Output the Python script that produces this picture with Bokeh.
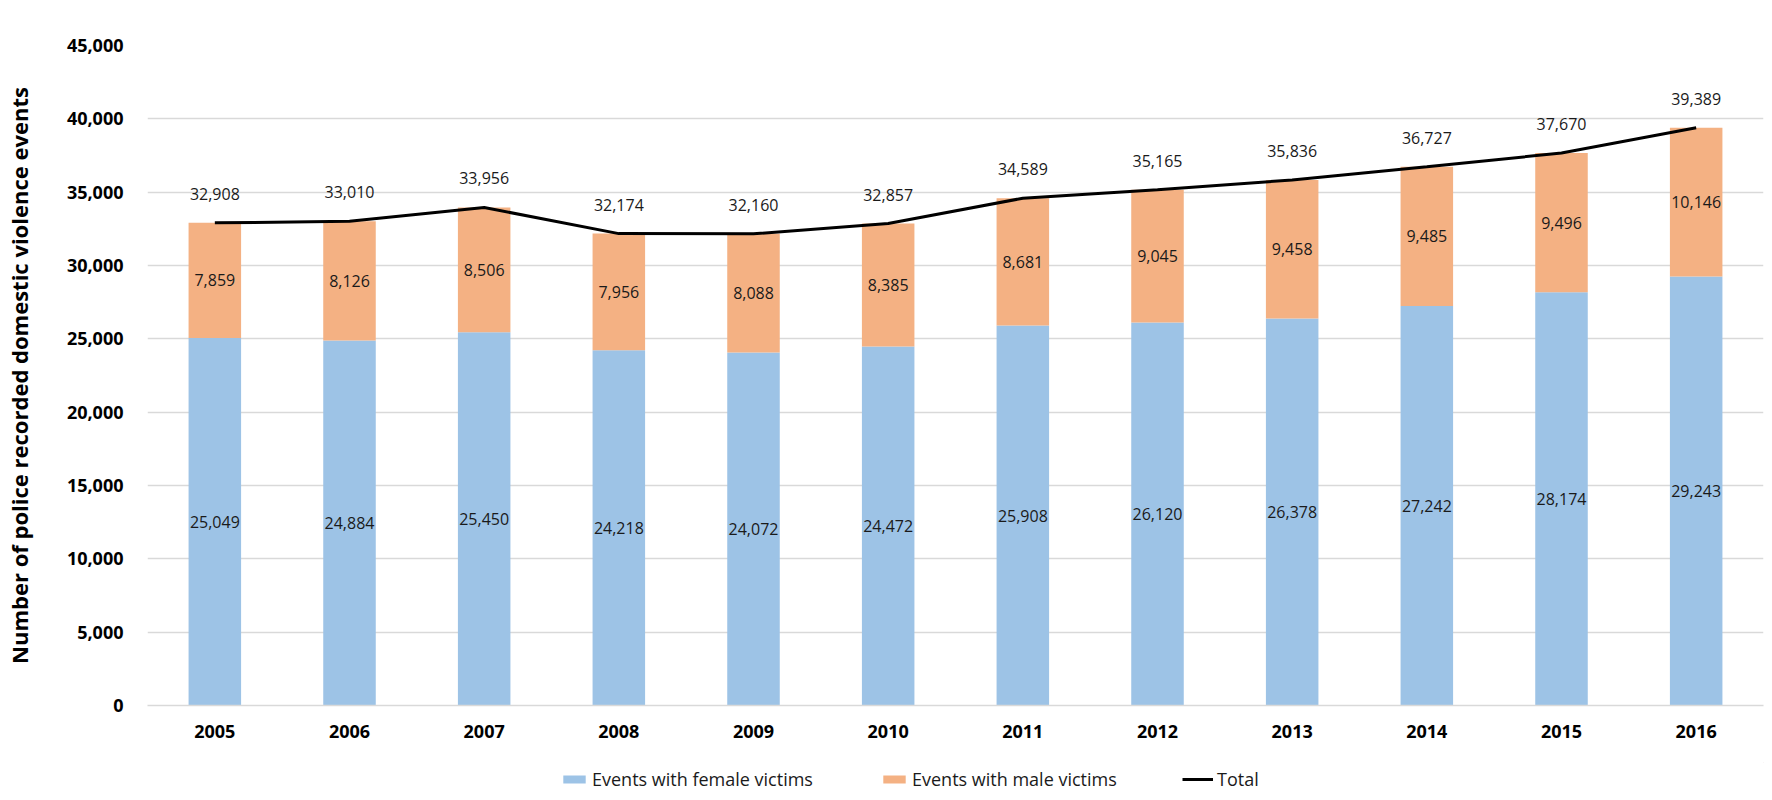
from bokeh.plotting import figure
from bokeh.layouts import column
from bokeh.models import (ColumnDataSource, FactorRange, Range1d, SingleIntervalTicker,
                          NumeralTickFormatter, Legend, LegendItem)
from bokeh.core.properties import value
from bokeh.embed import file_html
from bokeh.resources import INLINE

years = ["2005", "2006", "2007", "2008", "2009", "2010", "2011", "2012", "2013", "2014", "2015", "2016"]
female = [25049, 24884, 25450, 24218, 24072, 24472, 25908, 26120, 26378, 27242, 28174, 29243]
male = [7859, 8126, 8506, 7956, 8088, 8385, 8681, 9045, 9458, 9485, 9496, 10146]
total = [32908, 33010, 33956, 32174, 32160, 32857, 34589, 35165, 35836, 36727, 37670, 39389]
series_names = ["Events with female victims", "Events with male victims", "Total"]
y_label = "Number of police recorded domestic violence events"

FONT = "Open Sans"
BLUE = "#9DC3E6"
ORANGE = "#F4B183"
W = 1764

src = ColumnDataSource(dict(
    year=years,
    female=female,
    male=male,
    total=total,
    female_mid=[f / 2 for f in female],
    male_mid=[f + m / 2 for f, m in zip(female, male)],
    female_lbl=[f"{v:,}" for v in female],
    male_lbl=[f"{v:,}" for v in male],
    total_lbl=[f"{v:,}" for v in total],
))

p = figure(width=W, height=762, x_range=FactorRange(*years), y_range=Range1d(0, 45000),
           output_backend="svg", toolbar_location=None,
           min_border_left=143, min_border_right=1, min_border_top=45, min_border_bottom=57)
p.outline_line_color = None
p.background_fill_color = "white"
p.border_fill_color = "white"

bars = p.vbar_stack(["female", "male"], x="year", width=0.39, source=src,
                    color=[BLUE, ORANGE], line_color=None)
line = p.line(x="year", y="total", source=src, line_color="black", line_width=3)

txt = dict(source=src, text_font=value(FONT), text_font_size="16px", text_color="#1a1a1a",
           text_align="center", text_baseline="middle")
p.text(x="year", y="female_mid", text="female_lbl", **txt)
p.text(x="year", y="male_mid", text="male_lbl", **txt)
p.text(x="year", y="total", text="total_lbl", y_offset=-29, **txt)

# axes
p.yaxis.ticker = SingleIntervalTicker(interval=5000)
p.yaxis.formatter = NumeralTickFormatter(format="0,0")
p.yaxis.axis_line_color = None
p.yaxis.major_tick_line_color = None
p.yaxis.minor_tick_line_color = None
p.yaxis.major_label_text_font = FONT
p.yaxis.major_label_text_font_style = "bold"
p.yaxis.major_label_text_font_size = "18px"
p.yaxis.major_label_text_color = "black"
p.yaxis.major_label_standoff = 18
p.yaxis.axis_label = y_label
p.yaxis.axis_label_text_font = FONT
p.yaxis.axis_label_text_font_style = "bold"
p.yaxis.axis_label_text_font_size = "22px"
p.yaxis.axis_label_text_color = "black"
p.yaxis.axis_label_standoff = 30

p.xaxis.axis_line_color = "#D9D9D9"
p.xaxis.axis_line_width = 1.5
p.xaxis.major_tick_line_color = None
p.xaxis.minor_tick_line_color = None
p.xaxis.major_label_text_font = FONT
p.xaxis.major_label_text_font_style = "bold"
p.xaxis.major_label_text_font_size = "18px"
p.xaxis.major_label_text_color = "black"
p.xaxis.major_label_standoff = 13

p.xgrid.grid_line_color = None
p.ygrid.grid_line_color = "#D9D9D9"
p.ygrid.grid_line_width = 1.5

# legend strip below the chart (its frame lines up with the chart's frame)
lf = figure(width=W, height=34, x_range=Range1d(0, 1), y_range=Range1d(0, 1),
            x_axis_type=None, y_axis_type=None, output_backend="svg", toolbar_location=None,
            min_border=0)
lf.outline_line_color = None
lf.grid.visible = False
lf.background_fill_color = "white"
lf.border_fill_color = "white"
# legend-only renderers placed outside the visible range
r_f = lf.vbar(x=[5], top=[5], bottom=[4], width=0.1, color=BLUE, line_color=None)
r_m = lf.vbar(x=[5], top=[5], bottom=[4], width=0.1, color=ORANGE, line_color=None)
r_t = lf.line(x=[5, 6], y=[5, 5], line_color="black", line_width=3)

def add_legend(label, renderer, x, gw):
    lg = Legend(items=[LegendItem(label=label, renderers=[renderer])],
                location=(x, 5), orientation="horizontal",
                padding=0, margin=0, border_line_color=None, background_fill_alpha=0,
                glyph_width=gw, glyph_height=10, label_standoff=4,
                label_text_font=FONT, label_text_font_size="18px", label_text_color="#1a1a1a")
    lf.add_layout(lg, "center")

FRAME_LEFT = 150
add_legend(series_names[0], r_f, 563 - FRAME_LEFT, 28)
add_legend(series_names[1], r_m, 883 - FRAME_LEFT, 28)
add_legend(series_names[2], r_t, 1185 - FRAME_LEFT, 31)

layout = column(p, lf, spacing=0)
open("out.html", "w").write(file_html(layout, INLINE))
